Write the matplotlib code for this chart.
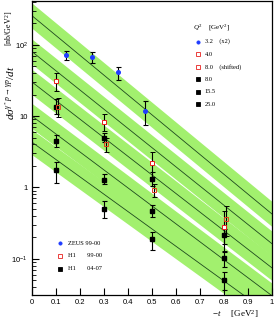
import numpy as np
import matplotlib
matplotlib.use('Agg')
import matplotlib.pyplot as plt

plt.rcParams['mathtext.fontset'] = 'custom'
plt.rcParams['mathtext.rm'] = 'Liberation Serif'
plt.rcParams['mathtext.it'] = 'Liberation Serif:italic'
plt.rcParams['mathtext.sf'] = 'Liberation Sans'
serif = 'Liberation Serif'
sans = 'Liberation Sans'

# model curves: value at t=0 and slope b [GeV^-2], one per Q^2
curve_q2 = ['3.2 x2', '4.0', '8.0', '15.5', '25.0']
curve_a = [255, 80, 30, 10, 4.3]
curve_b = [6.4, 6.2, 6.0, 5.8, 5.6]
band_factor = 1.5

# ZEUS 99-00, Q2 = 3.2 (x2)
zeus_t = [0.14, 0.25, 0.36, 0.47]
zeus_v = [72, 68, 41, 11.9]
zeus_up = [10, 11, 7, 4.1]
zeus_dn = [11, 12, 9, 4.3]

# H1 99-00, Q2 = 4.0
h1a_t = [0.1, 0.3, 0.5, 0.8]
h1a_v = [30.7, 8.2, 2.19, 0.279]
h1a_up = [9, 2.6, 0.93, 0.19]
h1a_dn = [8, 2.1, 0.8, 0.15]

# H1 99-00, Q2 = 8.0 (shifted in t)
h1s_t = [0.108, 0.308, 0.508, 0.808]
h1s_v = [13.6, 4.08, 0.93, 0.365]
h1s_up = [4.4, 0.8, 0.2, 0.175]
h1s_dn = [4.0, 0.96, 0.2, 0.16]

# H1 04-07
h1b_t = [0.1, 0.3, 0.5, 0.8]
h1b_v = {
    '8.0': [13.6, 4.96, 1.29, 0.213],
    '15.5': [4.44, 1.28, 0.46, 0.103],
    '25.0': [1.73, 0.497, 0.186, 0.051],
}
h1b_up = {
    '8.0': [3.5, 0.8, 0.35, 0.05],
    '15.5': [0.9, 0.27, 0.1, 0.021],
    '25.0': [0.53, 0.14, 0.05, 0.014],
}
h1b_dn = {
    '8.0': [3.0, 0.65, 0.25, 0.05],
    '15.5': [0.8, 0.18, 0.08, 0.026],
    '25.0': [0.57, 0.13, 0.055, 0.015],
}

fig = plt.figure(figsize=(2.74, 3.24), dpi=100)
ax = fig.add_axes([32 / 274, 29 / 324, 240 / 274, 294 / 324])

t = np.linspace(0, 1, 200)
for a, b in zip(curve_a, curve_b):
    y = a * np.exp(-b * t)
    ax.fill_between(t, y / band_factor, y * band_factor, color='#a2f06e', lw=0, zorder=1)
    ax.plot(t, y, color='#1e4a1e', lw=0.6, zorder=2)

ebkw = dict(ecolor='black', elinewidth=0.8, capsize=1.8, capthick=0.8, ls='none', zorder=3)
ax.errorbar(zeus_t, zeus_v, yerr=[zeus_dn, zeus_up], marker='o', ms=2.6,
            mfc='#1f3cff', mec='#1f3cff', **ebkw)
for q in h1b_v:
    ax.errorbar(h1b_t, h1b_v[q], yerr=[h1b_dn[q], h1b_up[q]], marker='s', ms=2.8,
                mfc='black', mec='black', **ebkw)
ax.errorbar(h1a_t, h1a_v, yerr=[h1a_dn, h1a_up], marker='s', ms=3.0,
            mfc='white', mec='#e8201e', mew=0.7, **ebkw)
ax.errorbar(h1s_t, h1s_v, yerr=[h1s_dn, h1s_up], marker='s', ms=3.0,
            mfc='none', mec='#e0401e', mew=0.7, **ebkw)

ax.set_yscale('log')
ax.set_xlim(0, 1)
ax.set_ylim(0.031, 410)
ax.set_xticks(np.arange(0, 1.01, 0.1))
ax.set_xticklabels(['0', '0.1', '0.2', '0.3', '0.4', '0.5', '0.6', '0.7', '0.8', '0.9', '1'])
ax.set_yticks([0.1, 1, 10, 100])
ax.set_yticklabels([r'$\mathsf{10^{-1}}$', '1', '10', r'$\mathsf{10^{2}}$'])
ax.tick_params(axis='both', which='major', direction='in', length=5, width=0.8,
               labelsize=5.5, pad=3)
ax.tick_params(axis='y', which='minor', direction='in', length=3, width=0.6)
for lbl in ax.get_xticklabels() + ax.get_yticklabels():
    lbl.set_fontfamily(sans)
for s in ax.spines.values():
    s.set_linewidth(0.9)

# y label in two pieces, as in the original
fig.text(0.033, 0.912, r'[nb/GeV$^2$]', rotation=90, fontsize=5.8, family=serif,
         ha='center', va='center')
fig.text(0.038, 0.715, r'$d\sigma^{\gamma^* p\rightarrow\gamma p}/dt$', rotation=90,
         fontsize=8, family=serif, ha='center', va='center')
fig.text(0.86, 0.022, r'$-t$     [GeV$^2$]', fontsize=6.5, family=serif, ha='center')

# Q2 legend (top right)
ax.text(0.67, 0.905, r'$Q^2$    [GeV$^2$]', transform=ax.transAxes, fontsize=5, family=serif)
leg_q2 = [('3.2    (x2)', 'o', '#1f3cff', '#1f3cff'),
          ('4.0', 's', 'white', '#e8201e'),
          ('8.0    (shifted)', 's', 'white', '#e8201e'),
          ('8.0', 's', 'black', 'black'),
          ('15.5', 's', 'black', 'black'),
          ('25.0', 's', 'black', 'black')]
for i, (txt, m, fc, ec) in enumerate(leg_q2):
    yy = 0.862 - i * 0.0425
    ax.plot([0.69], [yy], marker=m, ms=2.3, mfc=fc, mec=ec, mew=0.6,
            transform=ax.transAxes, zorder=4)
    ax.text(0.72, yy, txt, transform=ax.transAxes, fontsize=4.6, family=serif, va='center')

# experiment legend (bottom left)
leg_exp = [('ZEUS 99-00', 'o', '#1f3cff', '#1f3cff'),
           ('H1       99-00', 's', 'white', '#e8201e'),
           ('H1       04-07', 's', 'black', 'black')]
for i, (txt, m, fc, ec) in enumerate(leg_exp):
    yy = 0.176 - i * 0.043
    ax.plot([0.117], [yy], marker=m, ms=2.3, mfc=fc, mec=ec, mew=0.6,
            transform=ax.transAxes, zorder=4)
    ax.text(0.15, yy, txt, transform=ax.transAxes, fontsize=4.6, family=serif, va='center')

fig.savefig('out.png', dpi=100)
